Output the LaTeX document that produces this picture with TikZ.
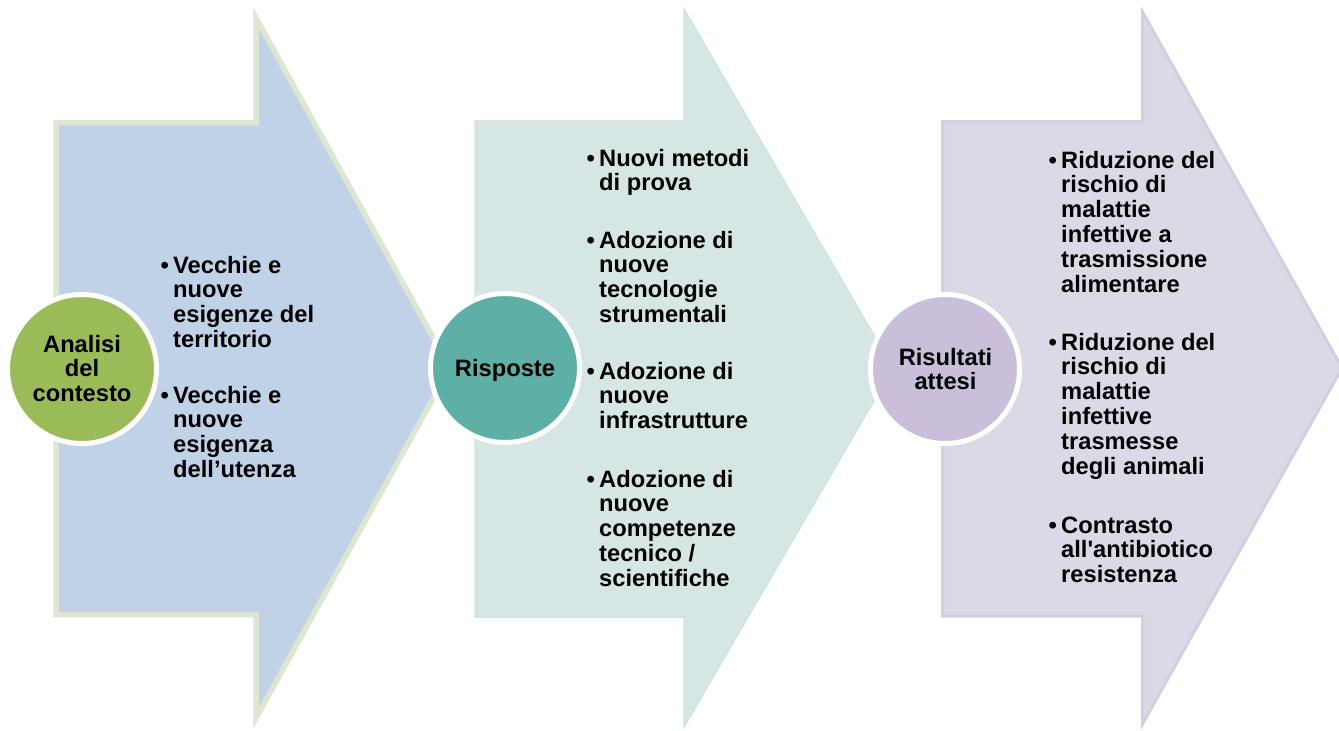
\documentclass[tikz,border=0pt]{standalone}
\usepackage{fontspec}
\setmainfont{Liberation Sans}[Ligatures=TeXOff]
\definecolor{aonefill}{HTML}{C0D2E7}
\definecolor{aoneline}{HTML}{DCE6D3}
\definecolor{atwofill}{HTML}{D5E6E5}
\definecolor{atwoline}{HTML}{D0E4E2}
\definecolor{athreefill}{HTML}{DCD8E6}
\definecolor{athreeline}{HTML}{D4CEE2}
\definecolor{conefill}{HTML}{9BBB59}
\definecolor{ctwofill}{HTML}{5EAFA6}
\definecolor{cthreefill}{HTML}{C9BFDA}
\newcommand\mybul{\makebox[0pt][r]{\textbullet\hspace{4.4pt}}}
\tikzset{
  bigarrow/.style={line join=miter},
  stage/.style={circle, draw=white, line width=5pt, minimum size=149pt, inner sep=0pt},
  itemtxt/.style={inner sep=0pt, anchor=base west, font=\bfseries\fontsize{23.7}{24.9}\selectfont},
  circtxt/.style={inner sep=0pt, anchor=base, font=\bfseries\fontsize{23.7}{24.9}\selectfont},
}
\begin{document}
\begin{tikzpicture}[x=1pt, y=-1pt]
\useasboundingbox (0,0) rectangle (1339,731);
% arrows
\draw[bigarrow, fill=aonefill, draw=aoneline, line width=5.5pt]
  (56,122.5) -- (256,122.5) -- (256,18) -- (450,368) -- (256,718) -- (256,614.5) -- (56,614.5) -- cycle;
\draw[bigarrow, fill=atwofill, draw=atwoline, line width=1.5pt]
  (475,121) -- (684,121) -- (684,9) -- (893,368) -- (684,727) -- (684,617) -- (475,617) -- cycle;
\draw[bigarrow, fill=athreefill, draw=athreeline, line width=3pt]
  (942.5,121.5) -- (1142.5,121.5) -- (1142.5,12) -- (1342,368) -- (1142.5,724) -- (1142.5,616) -- (942.5,616) -- cycle;
% circles
\node[stage, fill=conefill] (c1) at (82,369) {};
\node[stage, fill=ctwofill] (c2) at (505,368) {};
\node[stage, fill=cthreefill] (c3) at (945,369) {};
\node[circtxt] (c1t) at (82,352) {\parbox[t]{140pt}{\centering Analisi\\del\\contesto}};
\node[circtxt] (c2t) at (505,376) {\parbox[t]{140pt}{\centering Risposte}};
\node[circtxt] (c3t) at (945.5,365) {\parbox[t]{140pt}{\centering Risultati\\attesi}};
% arrow 1 items
\node[itemtxt] (a1i1) at (173,273) {\parbox[t]{200pt}{\raggedright\mybul Vecchie e\\nuove\\esigenze del\\territorio}};
\node[itemtxt] (a1i2) at (173,403) {\parbox[t]{200pt}{\raggedright\mybul Vecchie e\\nuove\\esigenza\\dell’utenza}};
% arrow 2 items
\node[itemtxt] (a2i1) at (599,166) {\parbox[t]{200pt}{\raggedright\mybul Nuovi metodi\\di prova}};
\node[itemtxt] (a2i2) at (599,248) {\parbox[t]{200pt}{\raggedright\mybul Adozione di\\nuove\\tecnologie\\strumentali}};
\node[itemtxt] (a2i3) at (599,379) {\parbox[t]{200pt}{\raggedright\mybul Adozione di\\nuove\\infrastrutture}};
\node[itemtxt] (a2i4) at (599,487) {\parbox[t]{200pt}{\raggedright\mybul Adozione di\\nuove\\competenze\\tecnico /\\scientifiche}};
% arrow 3 items
\node[itemtxt] (a3i1) at (1061,168) {\parbox[t]{200pt}{\raggedright\mybul Riduzione del\\rischio di\\malattie\\infettive a\\trasmissione\\alimentare}};
\node[itemtxt] (a3i2) at (1061,350) {\parbox[t]{200pt}{\raggedright\mybul Riduzione del\\rischio di\\malattie\\infettive\\trasmesse\\degli animali}};
\node[itemtxt] (a3i3) at (1061,533) {\parbox[t]{200pt}{\raggedright\mybul Contrasto\\all'antibiotico\\resistenza}};
\end{tikzpicture}
\end{document}
